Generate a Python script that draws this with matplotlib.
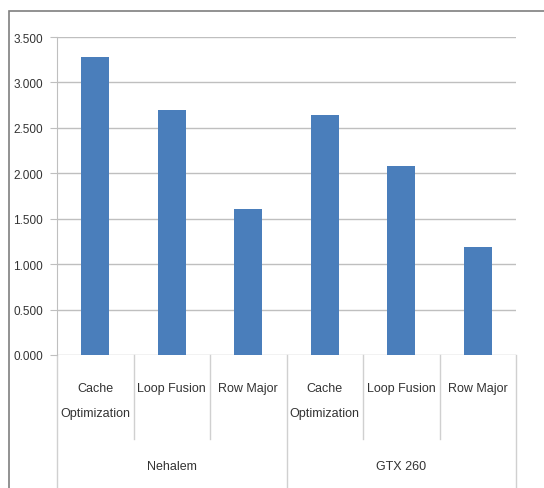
import matplotlib
matplotlib.use("Agg")
import matplotlib.pyplot as plt
from matplotlib.patches import Rectangle
from matplotlib.lines import Line2D

groups = ["Nehalem", "GTX 260"]
categories = ["Cache\nOptimization", "Loop Fusion", "Row Major"]
values = [3.28, 2.70, 1.61, 2.64, 2.08, 1.19]
yticks = [0.0, 0.5, 1.0, 1.5, 2.0, 2.5, 3.0, 3.5]

plt.rcParams["font.family"] = ["Liberation Sans", "DejaVu Sans"]
W, H = 544, 489
fig = plt.figure(figsize=(W / 100, H / 100), dpi=100)
x0, x1, ytop, ybot = 57, 516, 38, 356
ax = fig.add_axes([x0 / W, 1 - ybot / H, (x1 - x0) / W, (ybot - ytop) / H])

labels = [c for g in groups for c in categories]
xs = list(range(len(values)))
ax.bar(xs, values, width=0.37, color="#4a7ebb", zorder=3)
ax.set_xlim(-0.5, len(values) - 0.5)
ax.set_ylim(0, 3.5)
ax.set_yticks(yticks)
ax.set_yticklabels([f"{v:.3f}" for v in yticks], fontsize=8.5, color="#333333")
ax.yaxis.grid(True, color="#bfbfbf", lw=1)
ax.tick_params(axis="y", length=5, color="#bfbfbf", pad=5)
ax.set_xticks([])
for s in ["top", "right", "bottom"]:
    ax.spines[s].set_visible(False)
ax.spines["left"].set_color("#bfbfbf")

# category labels and separators below axis
tr = ax.get_xaxis_transform()
px = 1 / (ybot - ytop)
for i, lab in enumerate(labels):
    ax.text(i, -(383 - ybot) * px, lab, transform=tr, ha="center", va="top",
            fontsize=9, color="#333333", linespacing=2.5)
for k in range(len(values) + 1):
    if k in (0, 3, 6):
        y_end = -(H - ytop) * px
    else:
        y_end = -(440 - ybot) * px
    ax.add_line(Line2D([k - 0.5, k - 0.5], [0, y_end], transform=tr,
                       color="#d0d0d0", lw=1, clip_on=False))
for gi, g in enumerate(groups):
    ax.text(gi * 3 + 1, -(467 - ybot) * px, g, transform=tr,
            ha="center", va="center", fontsize=9, color="#333333")

# outer chart frame
fig.patches.append(Rectangle((9 / W, -0.1), 1, 1 - 12 / H + 0.1,
                             transform=fig.transFigure, fill=False,
                             edgecolor="#7f7f7f", lw=1.2))

fig.savefig("out.png", dpi=100)
